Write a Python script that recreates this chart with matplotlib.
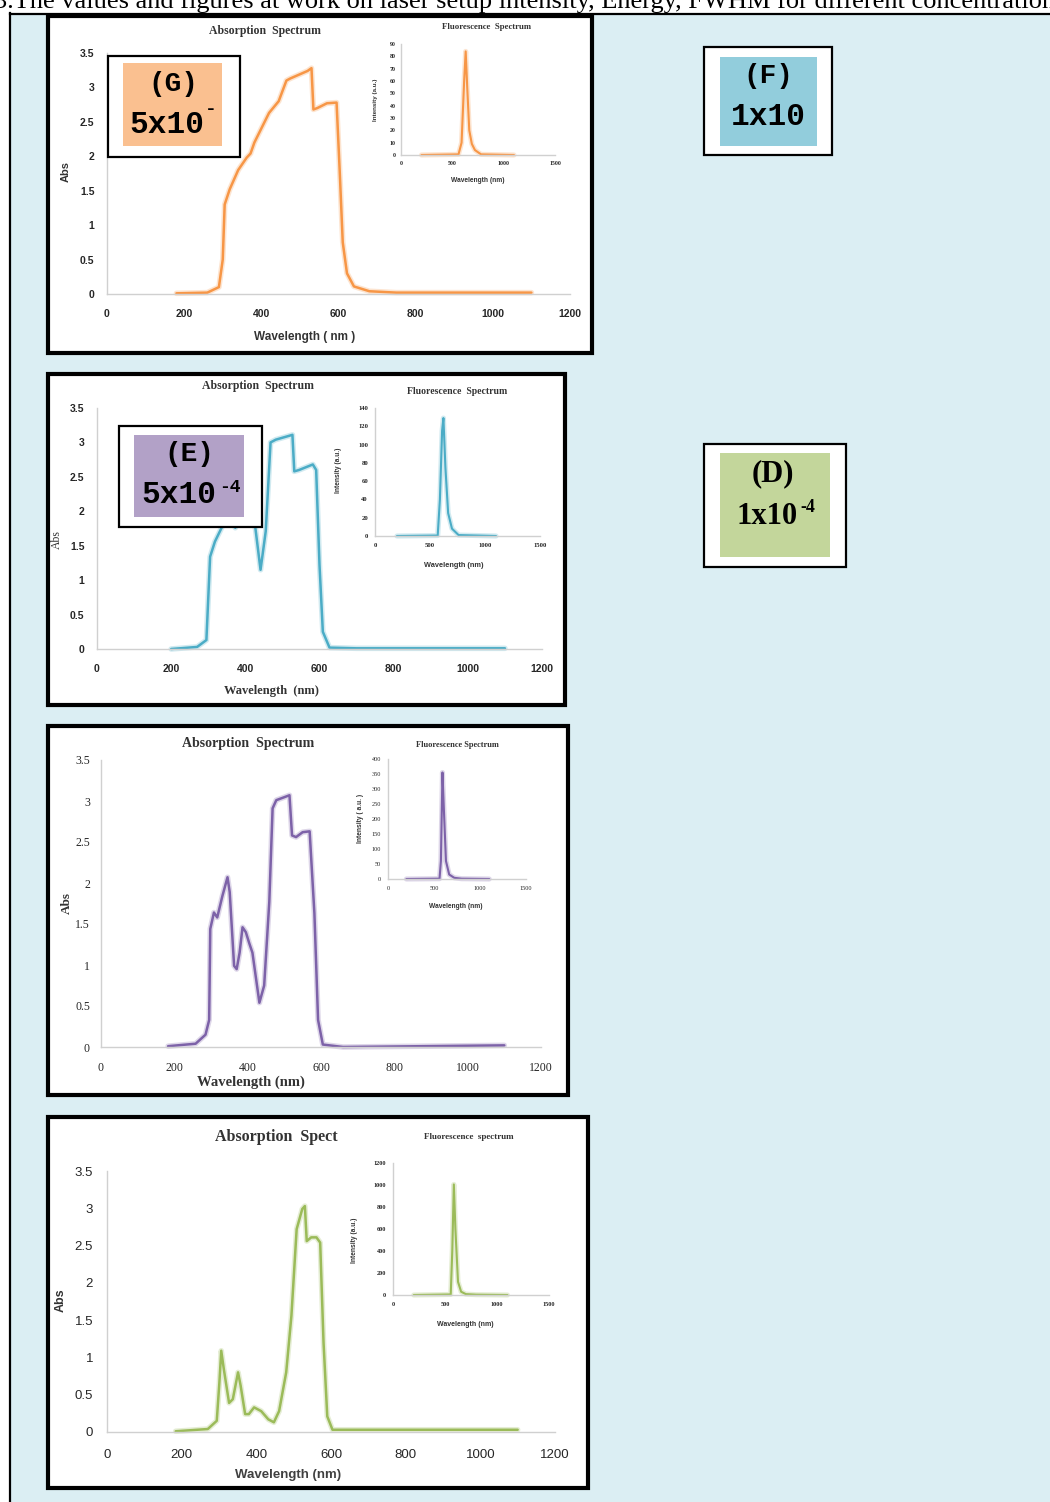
import matplotlib
matplotlib.use('Agg')
import matplotlib.pyplot as plt
from matplotlib.patches import Rectangle
from matplotlib.lines import Line2D

# ---------------- data ----------------
# Panel (G) 5x10^- : absorption
g_abs_wl = [180, 260, 290, 300, 305, 318, 340, 362, 372, 382, 420, 445, 465, 475, 520, 530,
            535, 545, 570, 595, 603, 611, 622, 640, 680, 750, 900, 1100]
g_abs = [0.01, 0.02, 0.10, 0.5, 1.3, 1.52, 1.8, 1.98, 2.04, 2.2, 2.63, 2.8, 3.1, 3.13, 3.24, 3.28,
         2.68, 2.7, 2.77, 2.78, 1.8, 0.75, 0.3, 0.11, 0.04, 0.02, 0.02, 0.02]
g_fl_wl = [200, 560, 590, 615, 630, 645, 665, 690, 720, 780, 1100]
g_fl = [0, 0.5, 10, 60, 84, 55, 20, 9, 4, 0.5, 0]

# Panel (E) 5x10^-4 : absorption
e_abs_wl = [200, 270, 295, 305, 318, 336, 355, 373, 400, 427, 441, 455, 468, 482, 527, 532,
            545, 582, 591, 600, 609, 627, 700, 1100]
e_abs = [0.0, 0.03, 0.13, 1.34, 1.56, 1.76, 2.05, 1.76, 2.1, 1.76, 1.15, 1.71, 3.0, 3.04, 3.11, 2.58,
         2.6, 2.68, 2.6, 1.22, 0.25, 0.02, 0.01, 0.01]
e_fl_wl = [200, 570, 590, 610, 622, 640, 665, 700, 760, 1100]
e_fl = [0, 0.5, 40, 115, 129, 75, 25, 8, 1, 0]

# Third panel (purple) : absorption
p_abs_wl = [183, 258, 285, 295, 298, 308, 317, 331, 345, 351, 363, 370, 378, 386, 395, 404, 413,
            432, 445, 459, 468, 478, 514, 521, 532, 550, 569, 582, 592, 605, 660, 1100]
p_abs = [0.01, 0.04, 0.15, 0.33, 1.44, 1.64, 1.58, 1.84, 2.07, 1.89, 0.99, 0.95, 1.15, 1.46, 1.40,
         1.27, 1.15, 0.54, 0.75, 1.77, 2.91, 3.01, 3.07, 2.58, 2.56, 2.62, 2.63, 1.63, 0.33, 0.03,
         0.0, 0.02]
p_fl_wl = [200, 560, 575, 592, 605, 630, 665, 720, 800, 1100]
p_fl = [0, 1, 60, 355, 250, 60, 15, 4, 1, 0]

# Fourth panel (green) : absorption
q_abs_wl = [184, 270, 294, 301, 306, 313, 327, 337, 351, 358, 370, 380, 394, 413, 432, 447, 461,
            480, 494, 508, 523, 530, 535, 547, 561, 571, 580, 590, 604, 1100]
q_abs = [0.01, 0.04, 0.15, 0.66, 1.09, 0.84, 0.39, 0.44, 0.80, 0.62, 0.24, 0.24, 0.33, 0.28, 0.17,
         0.13, 0.28, 0.80, 1.56, 2.72, 2.99, 3.03, 2.56, 2.61, 2.61, 2.54, 1.2, 0.21, 0.03, 0.03]
q_fl_wl = [200, 555, 570, 585, 600, 625, 655, 700, 800, 1100]
q_fl = [0, 5, 400, 1005, 600, 120, 30, 8, 3, 0]

abs_yticks = [0, 0.5, 1, 1.5, 2, 2.5, 3, 3.5]
abs_yticklabels = ['0', '0.5', '1', '1.5', '2', '2.5', '3', '3.5']
abs_xticks = [0, 200, 400, 600, 800, 1000, 1200]
fl_xticks = [0, 500, 1000, 1500]

# ---------------- figure ----------------
W, H = 1050, 1502
fig = plt.figure(figsize=(10.5, 15.02), dpi=100)
fig.patch.set_facecolor('white')


def fx(x):
    return x / W


def fy(y):
    return 1 - y / H


def rect(x0, y0, x1, y1, **kw):
    r = Rectangle((fx(x0), fy(y1)), (x1 - x0) / W, (y1 - y0) / H,
                  transform=fig.transFigure, **kw)
    fig.add_artist(r)
    return r


def hline(x0, x1, y, **kw):
    fig.add_artist(Line2D([fx(x0), fx(x1)], [fy(y), fy(y)], transform=fig.transFigure, **kw))


def vline(x, y0, y1, **kw):
    fig.add_artist(Line2D([fx(x), fx(x)], [fy(y0), fy(y1)], transform=fig.transFigure, **kw))


def txt(x, y, s, **kw):
    kw.setdefault('ha', 'center')
    kw.setdefault('va', 'center')
    return fig.text(fx(x), fy(y), s, **kw)


def make_ax(x0, x1, yb, yt, xlim, ylim, xticks, yticks, yticklabels,
            font, size, weight, ypad, xpad, color='#262626'):
    ax = fig.add_axes([fx(x0), fy(yb), (x1 - x0) / W, (yb - yt) / H])
    ax.set_xlim(*xlim)
    ax.set_ylim(*ylim)
    ax.patch.set_alpha(0)
    for s in ['top', 'right']:
        ax.spines[s].set_visible(False)
    for s in ['left', 'bottom']:
        ax.spines[s].set_color('#d0d0d0')
        ax.spines[s].set_linewidth(1.0)
    ax.set_xticks(xticks)
    ax.set_yticks(yticks)
    ax.set_yticklabels(yticklabels)
    ax.tick_params(length=0, labelsize=size, colors=color)
    ax.tick_params(axis='y', pad=ypad)
    ax.tick_params(axis='x', pad=xpad)
    for lab in ax.get_xticklabels() + ax.get_yticklabels():
        lab.set_family(font)
        lab.set_weight(weight)
    return ax


def plot_line(ax, x, y, color, lw=1.8):
    ax.plot(x, y, color=color, lw=lw + 2.2, alpha=0.25, solid_joinstyle='round',
            solid_capstyle='round', clip_on=False)
    ax.plot(x, y, color=color, lw=lw, solid_joinstyle='round', solid_capstyle='round',
            clip_on=False)


# background / table
rect(10, 13, 1060, 1510, facecolor='#dbeef3', edgecolor='none', zorder=-5)
hline(10, 1050, 13.5, color='black', lw=1.6, zorder=-4)
vline(10, 13, 1502, color='black', lw=1.6, zorder=-4)

txt(-6, 8, '3.The values and figures at work on laser setup intensity, Energy, FWHM for different '
    'concentrations', ha='left', va='baseline', fontsize=19, family='Liberation Serif',
    color='black')

# panel frames
for (x0, y0, x1, y1) in [(46, 14, 594, 355), (46, 372, 567, 707), (46, 724, 570, 1097),
                         (46, 1115, 590, 1490)]:
    rect(x0 + 2, y0 + 2, x1 - 2, y1 - 2, facecolor='white', edgecolor='black', lw=3.0, zorder=-3)

ORANGE = '#f79646'
CYAN = '#4bacc6'
PURPLE = '#7d62a8'
GREEN = '#9bbb59'
TXT = '#333333'

# ---------- Panel 1 (G) ----------
ax = make_ax(107, 570, 294, 53, (0, 1200), (0, 3.5), abs_xticks, abs_yticks, abs_yticklabels,
             'Liberation Sans', 7.5, 'bold', 9, 11)
plot_line(ax, g_abs_wl, g_abs, ORANGE)
txt(265, 31, 'Absorption  Spectrum', family='Liberation Serif', weight='bold', fontsize=8.5,
    color=TXT)
txt(305, 337, 'Wavelength ( nm )', family='Liberation Sans', weight='bold', fontsize=8.5,
    color=TXT)
txt(66, 172, 'Abs', family='Liberation Sans', weight='bold', fontsize=8, rotation=90, color=TXT)

ax = make_ax(401, 555, 155, 44, (0, 1500), (0, 90), fl_xticks, list(range(0, 91, 10)),
             [str(v) for v in range(0, 91, 10)], 'Liberation Serif', 4.2, 'bold', 4, 4)
plot_line(ax, g_fl_wl, g_fl, ORANGE, lw=1.5)
txt(486, 27, 'Fluorescence  Spectrum', family='Liberation Serif', weight='bold', fontsize=6.3,
    color=TXT)
txt(478, 180, 'Wavelength (nm)', family='Liberation Sans', weight='bold', fontsize=4.8, color=TXT)
txt(375, 100, 'Intensity (a.u.)', family='Liberation Sans', weight='bold', fontsize=4.5,
    rotation=90, color=TXT)

# ---------- Panel 2 (E) ----------
ax = make_ax(97, 542, 649, 408, (0, 1200), (0, 3.5), abs_xticks, abs_yticks, abs_yticklabels,
             'Liberation Sans', 7.5, 'bold', 9, 11)
plot_line(ax, e_abs_wl, e_abs, CYAN)
txt(258, 386, 'Absorption  Spectrum', family='Liberation Serif', weight='bold', fontsize=8.5,
    color=TXT)
txt(271, 691, 'Wavelength  (nm)', family='Liberation Serif', weight='bold', fontsize=9,
    color=TXT)
txt(57, 540, 'Abs', family='Liberation Serif', fontsize=8.5, rotation=90, color=TXT)

ax = make_ax(375, 540, 536, 408, (0, 1500), (0, 140), fl_xticks, list(range(0, 141, 20)),
             [str(v) for v in range(0, 141, 20)], 'Liberation Serif', 4.8, 'bold', 5, 5)
plot_line(ax, e_fl_wl, e_fl, CYAN, lw=1.5)
txt(457, 391, 'Fluorescence  Spectrum', family='Liberation Serif', weight='bold', fontsize=7,
    color=TXT)
txt(454, 565, 'Wavelength (nm)', family='Liberation Sans', weight='bold', fontsize=5.3, color=TXT)
txt(338, 470, 'Intensity (a.u.)', family='Liberation Sans', weight='bold', fontsize=4.8,
    rotation=90, color=TXT)

# ---------- Panel 3 (purple) ----------
ax = make_ax(101, 541, 1047, 760, (0, 1200), (0, 3.5), abs_xticks, abs_yticks, abs_yticklabels,
             'Liberation Serif', 8.5, 'normal', 8, 11)
plot_line(ax, p_abs_wl, p_abs, PURPLE)
txt(248, 744, 'Absorption  Spectrum', family='Liberation Serif', weight='bold', fontsize=10,
    color=TXT)
txt(251, 1082, 'Wavelength (nm)', family='Liberation Serif', weight='bold', fontsize=10.5,
    color=TXT)
txt(67, 903, 'Abs', family='Liberation Serif', weight='bold', fontsize=9.5, rotation=90, color=TXT)

ax = make_ax(388, 526, 879, 759, (0, 1500), (0, 400), fl_xticks, list(range(0, 401, 50)),
             [str(v) for v in range(0, 401, 50)], 'Liberation Serif', 4.5, 'normal', 5, 5)
plot_line(ax, p_fl_wl, p_fl, PURPLE, lw=1.5)
txt(457, 745, 'Fluorescence Spectrum', family='Liberation Serif', weight='bold', fontsize=6,
    color=TXT)
txt(456, 906, 'Wavelength (nm)', family='Liberation Sans', weight='bold', fontsize=4.8, color=TXT)
txt(361, 818, 'Intensity ( a.u. )', family='Liberation Sans', weight='bold', fontsize=4.8,
    rotation=90, color=TXT)

# ---------- Panel 4 (green) ----------
ax = make_ax(107, 555, 1432, 1171, (0, 1200), (0, 3.5), abs_xticks, abs_yticks, abs_yticklabels,
             'Liberation Sans', 9.5, 'normal', 10, 12)
plot_line(ax, q_abs_wl, q_abs, GREEN)
txt(276, 1137, 'Absorption  Spect', family='Liberation Serif', weight='bold', fontsize=11.5,
    color=TXT)
txt(288, 1475, 'Wavelength (nm)', family='Liberation Sans', weight='bold', fontsize=9.5,
    color='#404040')
txt(61, 1300, 'Abs', family='Liberation Sans', weight='bold', fontsize=9, rotation=90, color=TXT)

ax = make_ax(393, 549, 1295, 1163, (0, 1500), (0, 1200), fl_xticks, list(range(0, 1201, 200)),
             [str(v) for v in range(0, 1201, 200)], 'Liberation Serif', 4.5, 'bold', 5, 5)
plot_line(ax, q_fl_wl, q_fl, GREEN, lw=1.5)
txt(469, 1137, 'Fluorescence  spectrum', family='Liberation Serif', weight='bold', fontsize=6.5,
    color=TXT)
txt(465, 1325, 'Wavelength (nm)', family='Liberation Sans', weight='bold', fontsize=5, color=TXT)
txt(355, 1240, 'Intensity (a.u.)', family='Liberation Sans', weight='bold', fontsize=4.8,
    rotation=90, color=TXT)

# ---------- label boxes ----------
MONO = 'Liberation Mono'
# G
rect(108, 56, 240, 157, facecolor='white', edgecolor='black', lw=1.6, zorder=10)
rect(123, 63, 222, 146, facecolor='#fac090', edgecolor='none', zorder=11)
txt(173, 84, '(G)', family=MONO, weight='bold', fontsize=20, zorder=12)
txt(167, 125, '5x10', family=MONO, weight='bold', fontsize=22.5, zorder=12)
txt(211, 110, '-', family=MONO, weight='bold', fontsize=14, zorder=12)
# F
rect(704, 47, 832, 155, facecolor='white', edgecolor='black', lw=1.6, zorder=10)
rect(720, 57, 817, 146, facecolor='#92cddc', edgecolor='none', zorder=11)
txt(768, 76, '(F)', family=MONO, weight='bold', fontsize=20, zorder=12)
txt(768, 117, '1x10', family=MONO, weight='bold', fontsize=22.5, zorder=12)
# E
rect(119, 426, 262, 527, facecolor='white', edgecolor='black', lw=1.6, zorder=10)
rect(134, 435, 244, 517, facecolor='#b2a1c7', edgecolor='none', zorder=11)
txt(189, 454, '(E)', family=MONO, weight='bold', fontsize=20, zorder=12)
txt(179, 495, '5x10', family=MONO, weight='bold', fontsize=22.5, zorder=12)
txt(230, 487, '-4', family=MONO, weight='bold', fontsize=13, zorder=12)
# D
rect(704, 444, 846, 567, facecolor='white', edgecolor='black', lw=1.6, zorder=10)
rect(720, 453, 830, 557, facecolor='#c3d69b', edgecolor='none', zorder=11)
txt(773, 474, '(D)', family='Liberation Serif', weight='bold', fontsize=22, zorder=12)
txt(767, 517, '1x10', family='Liberation Serif', weight='bold', fontsize=22, zorder=12)
txt(808, 508, '-4', family='Liberation Serif', weight='bold', fontsize=13, zorder=12)

fig.savefig('out.png', dpi=100, facecolor='white')
